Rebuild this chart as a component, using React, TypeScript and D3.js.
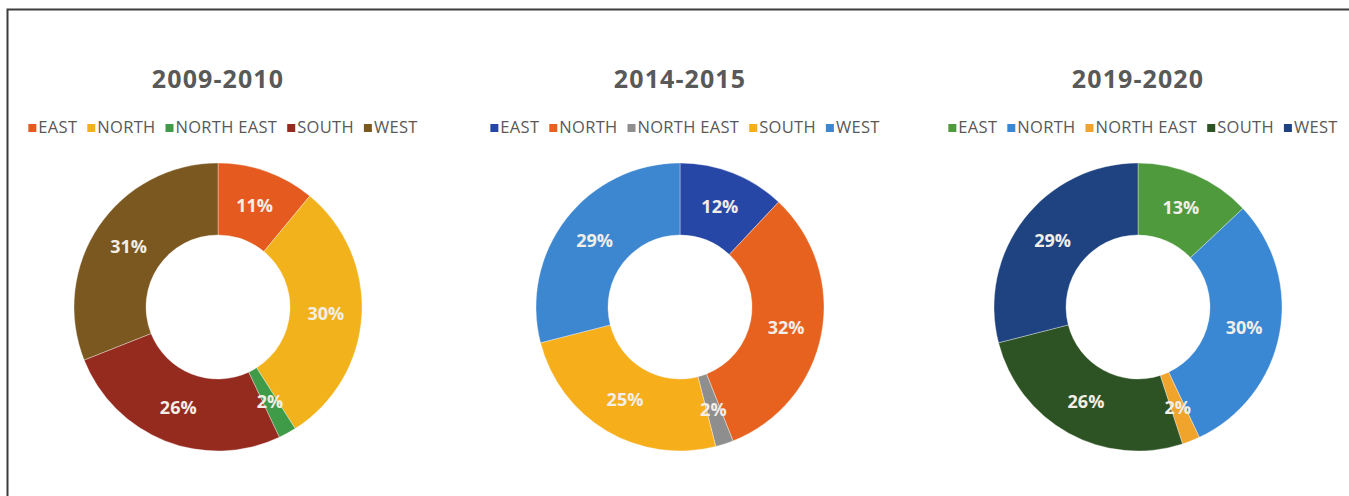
import React, { useEffect, useRef } from "react";
import * as d3 from "d3";

const regions = ["EAST", "NORTH", "NORTH EAST", "SOUTH", "WEST"];
const titles = ["2009-2010", "2014-2015", "2019-2020"];
const values2009 = [11, 30, 2, 26, 31];
const values2014 = [12, 32, 2, 25, 29];
const values2019 = [13, 30, 2, 26, 29];
const colors2009 = ["#E55B1F", "#F2B21B", "#3F9B48", "#952A1F", "#7A5820"];
const colors2014 = ["#2747A6", "#E8621F", "#8E8E8E", "#F6AE1B", "#3D86D0"];
const colors2019 = ["#4F9A3D", "#3A87D3", "#F0A42B", "#2D5223", "#1E4380"];

const charts = [
  { title: titles[0], values: values2009, colors: colors2009, cx: 218 },
  { title: titles[1], values: values2014, colors: colors2014, cx: 680 },
  { title: titles[2], values: values2019, colors: colors2019, cx: 1138 },
];

export default function App() {
  const ref = useRef<SVGSVGElement>(null);
  useEffect(() => {
    document.body.style.margin = "0";
    const svg = d3.select(ref.current);
    svg.selectAll("*").remove();
    const W = 1349, H = 496;
    svg.append("rect").attr("width", W).attr("height", H).attr("fill", "#fff");
    svg.append("path").attr("d", `M7.5,${H} L7.5,9.5 L${W},9.5`).attr("fill", "none").attr("stroke", "#3c3c3c").attr("stroke-width", 2);

    const cy = 307, R = 144, r = 72;
    const pie = d3.pie<number>().sort(null).value((d) => d);
    const arc = d3.arc<d3.PieArcDatum<number>>().innerRadius(r).outerRadius(R);
    const font = "'Open Sans', sans-serif";

    charts.forEach((c) => {
      const g = svg.append("g");
      g.append("text").attr("x", c.cx).attr("y", 88).attr("text-anchor", "middle")
        .attr("font-family", font).attr("font-weight", 700).attr("font-size", 25)
        .attr("letter-spacing", 1.1)
        .attr("fill", "#595959").text(c.title);

      // legend
      const lg = g.append("g");
      const fs = 16.5;
      let x = 0;
      const sq = 8, gapSq = 2, gapItem = 10;
      regions.forEach((name, i) => {
        const it = lg.append("g").attr("transform", `translate(${x},0)`);
        it.append("rect").attr("x", 0).attr("y", -9).attr("width", sq).attr("height", sq).attr("fill", c.colors[i]);
        const t = it.append("text").attr("x", sq + gapSq).attr("y", 0).attr("font-family", font)
          .attr("font-size", fs).attr("letter-spacing", 0.3).attr("fill", "#595959").text(name);
        const w = (t.node() as SVGTextElement).getComputedTextLength();
        x += sq + gapSq + w + gapItem;
      });
      const total = x - gapItem;
      lg.attr("transform", `translate(${c.cx - total / 2 + 5},133)`);

      const arcs = pie(c.values);
      const dg = g.append("g").attr("transform", `translate(${c.cx},${cy})`);
      dg.selectAll("path").data(arcs).join("path")
        .attr("d", arc).attr("fill", (_, i) => c.colors[i])
        .attr("stroke", "rgba(255,255,255,0.35)").attr("stroke-width", 1);
      dg.selectAll("text").data(arcs).join("text")
        .attr("transform", (d) => `translate(${arc.centroid(d)})`)
        .attr("text-anchor", "middle").attr("dy", "0.36em")
        .attr("font-family", font).attr("font-weight", 700).attr("font-size", 18)
        .attr("fill", "#F2EEE8").text((d) => `${d.data}%`);
    });
  }, []);
  return <svg ref={ref} width={1349} height={496} style={{ display: "block" }} />;
}
